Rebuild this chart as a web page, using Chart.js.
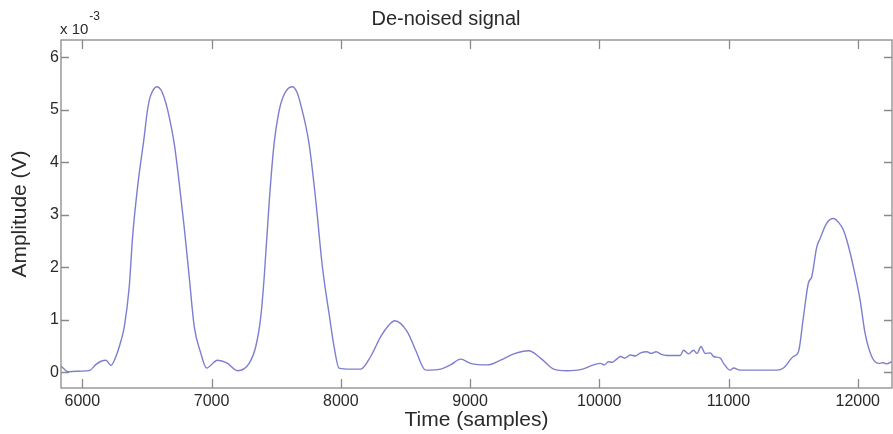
<!DOCTYPE html>
<html>
<head>
<meta charset="utf-8">
<script src="https://cdn.jsdelivr.net/npm/chart.js@4/dist/chart.umd.min.js"></script>
<style>
  html, body { margin: 0; padding: 0; background: #ffffff; }
  #wrap { width: 893px; height: 434px; position: relative; }
</style>
</head>
<body>
<div id="wrap"><canvas id="c"></canvas></div>
<script>
// ---- data (Amplitude in units of 10^-3 V) ----
const sampleTimes = [
  5835, 5890, 5951, 6052, 6106, 6145, 6183, 6222, 6260, 6299, 6325, 6363, 6389, 6428, 6479, 6500, 6518, 6544, 6577,
  6608, 6635, 6660, 6711, 6750, 6788, 6827, 6866, 6917, 6961, 7046, 7118, 7201, 7291, 7342, 7381, 7407, 7447, 7484,
  7520, 7549, 7590, 7626, 7660, 7690, 7754, 7806, 7858, 7909, 7948, 7986, 8077, 8154, 8231, 8309, 8373, 8417, 8515, 8579, 8657,
  8772, 8849, 8927, 9004, 9133, 9236, 9339, 9454, 9545, 9648, 9751, 9854, 9957, 10009, 10040, 10070, 10100,
  10140, 10163, 10200, 10240, 10280, 10320, 10369, 10400, 10440, 10480, 10524, 10627, 10652, 10691, 10730,
  10756, 10787, 10820, 10859, 10884, 10936, 10962, 11013, 11039, 11090, 11374, 11425, 11502, 11541, 11580,
  11618, 11644, 11683, 11709, 11760, 11811, 11850, 11889, 11915, 11966, 12018, 12057, 12108, 12160, 12198, 12224, 12263
];
const amplitudes = [
  0.12, 0.01, 0.02, 0.03, 0.15, 0.21, 0.23, 0.13, 0.30, 0.60, 0.87, 1.63, 2.58, 3.54, 4.49, 4.92, 5.18, 5.36, 5.44,
  5.38, 5.22, 5.00, 4.36, 3.60, 2.77, 1.82, 0.87, 0.36, 0.08, 0.23, 0.18, 0.03, 0.17, 0.49, 1.06, 1.80, 3.28, 4.36,
  4.95, 5.22, 5.40, 5.44, 5.34, 5.10, 4.36, 3.28, 2.00, 1.12, 0.49, 0.08, 0.06, 0.06, 0.30, 0.68, 0.90, 0.98, 0.77, 0.42, 0.04,
  0.06, 0.14, 0.25, 0.17, 0.14, 0.23, 0.35, 0.41, 0.27, 0.06, 0.03, 0.05, 0.14, 0.17, 0.14, 0.20, 0.19,
  0.26, 0.30, 0.27, 0.33, 0.31, 0.37, 0.39, 0.36, 0.39, 0.34, 0.32, 0.32, 0.42, 0.35, 0.42,
  0.36, 0.49, 0.36, 0.37, 0.30, 0.27, 0.17, 0.04, 0.08, 0.04, 0.04, 0.08, 0.30, 0.39, 1.06,
  1.70, 1.82, 2.39, 2.55, 2.84, 2.93, 2.86, 2.71, 2.52, 2.01, 1.38, 0.74, 0.30, 0.17, 0.18, 0.16, 0.20
];
const xTickValues = [6000, 7000, 8000, 9000, 10000, 11000, 12000];
const yTickValues = [0, 1, 2, 3, 4, 5, 6];
const titleText = 'De-noised signal';
const xLabel = 'Time (samples)';
const yLabel = 'Amplitude (V)';
const multiplierBase = 'x 10';
const multiplierExp = '-3';

const FONT = 'Arial, "Liberation Sans", Helvetica, sans-serif';
const AXIS_COLOR = '#8a8a8a';
const TEXT_COLOR = '#2a2a2a';

const points = sampleTimes.map((t, i) => ({ x: t, y: amplitudes[i] }));

const framePlugin = {
  id: 'matlabFrame',
  afterDraw(chart) {
    const { ctx, chartArea: a, scales } = chart;
    const xs = scales.x, ys = scales.y;
    ctx.save();
    ctx.strokeStyle = AXIS_COLOR;
    ctx.lineWidth = 1.3;
    ctx.strokeRect(a.left, a.top, a.right - a.left, a.bottom - a.top);
    ctx.beginPath();
    xTickValues.forEach(v => {
      const px = Math.round(xs.getPixelForValue(v)) + 0.5;
      ctx.moveTo(px, a.bottom); ctx.lineTo(px, a.bottom - 9);
      ctx.moveTo(px, a.top); ctx.lineTo(px, a.top + 9);
    });
    yTickValues.forEach(v => {
      const py = Math.round(ys.getPixelForValue(v)) + 0.5;
      ctx.moveTo(a.left, py); ctx.lineTo(a.left + 8, py);
      ctx.moveTo(a.right, py); ctx.lineTo(a.right - 8, py);
    });
    ctx.stroke();
    // exponent multiplier
    ctx.fillStyle = TEXT_COLOR;
    ctx.textBaseline = 'alphabetic';
    ctx.textAlign = 'left';
    ctx.font = '15px ' + FONT;
    ctx.fillText(multiplierBase, a.left - 1, 34);
    const w = ctx.measureText(multiplierBase).width;
    ctx.font = '12px ' + FONT;
    ctx.fillText(multiplierExp, a.left - 1 + w + 1, 20);
    ctx.restore();
  }
};

new Chart(document.getElementById('c'), {
  type: 'line',
  data: {
    datasets: [{
      data: points,
      borderColor: '#7e7ed0',
      borderWidth: 1.4,
      pointRadius: 0,
      fill: false,
      cubicInterpolationMode: 'monotone'
    }]
  },
  options: {
    responsive: true,
    maintainAspectRatio: false,
    animation: false,
    events: [],
    layout: { padding: { left: 0, right: 1, top: 0, bottom: 0 } },
    plugins: {
      legend: { display: false },
      tooltip: { enabled: false },
      title: {
        display: true,
        text: titleText,
        color: TEXT_COLOR,
        font: { family: FONT, size: 20, weight: 'normal' },
        padding: { top: 7, bottom: 9 }
      }
    },
    scales: {
      x: {
        type: 'linear',
        min: 5835,
        max: 12265,
        afterBuildTicks(scale) { scale.ticks = xTickValues.map(v => ({ value: v })); },
        afterFit(scale) { scale.height = 46; },
        grid: { display: false, drawTicks: false },
        border: { display: false },
        ticks: {
          color: TEXT_COLOR,
          font: { family: FONT, size: 16 },
          padding: 4,
          maxRotation: 0,
          autoSkip: false,
          callback: v => String(v)
        },
        title: {
          display: true,
          text: xLabel,
          color: TEXT_COLOR,
          font: { family: FONT, size: 21 },
          padding: { top: 0, bottom: 1 }
        }
      },
      y: {
        type: 'linear',
        min: -0.3,
        max: 6.33,
        afterBuildTicks(scale) { scale.ticks = yTickValues.map(v => ({ value: v })); },
        afterFit(scale) { scale.width = 61; },
        grid: { display: false, drawTicks: false },
        border: { display: false },
        ticks: {
          color: TEXT_COLOR,
          font: { family: FONT, size: 16 },
          padding: 2,
          autoSkip: false,
          callback: v => String(v)
        },
        title: {
          display: true,
          text: yLabel,
          color: TEXT_COLOR,
          font: { family: FONT, size: 21 },
          padding: { top: 8, bottom: 0 }
        }
      }
    }
  },
  plugins: [framePlugin]
});
</script>
</body>
</html>
